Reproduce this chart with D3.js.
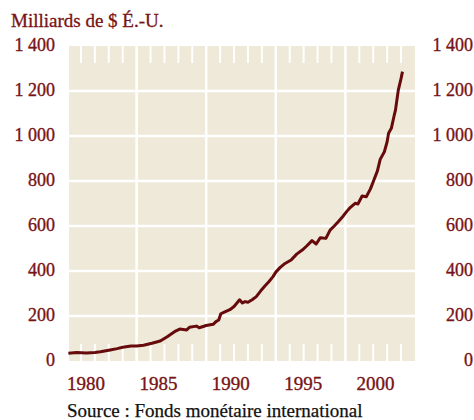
<!DOCTYPE html>
<html>
<head>
<meta charset="utf-8">
<script src="https://d3js.org/d3.v7.min.js"></script>
<style>
  body { margin: 0; background: #ffffff; }
  text { font-family: "Liberation Serif", "Times New Roman", serif; }
</style>
</head>
<body>
<div id="chart"></div>
<script>
// Reserves data (milliards de $ E.-U.)
var years = [1980.1, 1980.7, 1981.4, 1982.0, 1982.4, 1983.1, 1983.6, 1984.0, 1984.6, 1985.0,
  1985.5, 1986.1, 1986.7, 1987.2, 1987.8, 1988.1, 1988.6, 1988.8, 1989.3, 1989.5,
  1990.0, 1990.5, 1990.7, 1990.9, 1991.05, 1991.3, 1991.7, 1992.0, 1992.4, 1992.6,
  1992.8, 1993.0, 1993.3, 1993.6, 1994.0, 1994.2, 1994.5, 1994.8, 1995.0, 1995.3,
  1995.6, 1996.1, 1996.5, 1996.9, 1997.2, 1997.6, 1997.9, 1998.2, 1998.6, 1998.9,
  1999.2, 1999.5, 1999.8, 2000.1, 2000.3, 2000.7, 2000.9, 2001.2, 2001.5, 2001.8,
  2002.0, 2002.3, 2002.5, 2002.8, 2003.0, 2003.1, 2003.3, 2003.5, 2003.6, 2003.8,
  2004.0, 2004.1];
var reserves = [34, 38, 36, 38, 41, 49, 55, 61, 67, 67,
  70, 79, 89, 108, 133, 142, 138, 150, 155, 148,
  158, 163, 175, 182, 210, 217, 228, 242, 272, 258,
  264, 261, 272, 286, 318, 332, 352, 375, 395, 415,
  431, 449, 475, 493, 510, 535, 520, 548, 545, 582,
  600, 620, 641, 665, 679, 701, 698, 733, 730, 765,
  797, 845, 896, 930, 975, 1012, 1034, 1090, 1116, 1204,
  1256, 1286];

var yTicks = [0, 200, 400, 600, 800, 1000, 1200, 1400];
var yTickLabels = ["0", "200", "400", "600", "800", "1 000", "1 200", "1 400"];
var xLabelYears = [1980, 1985, 1990, 1995, 2000];
var yearTicks = d3.range(1981, 2005);

var svgWidth = 474;
var svgHeight = 420;

var bg = "#eee9d8";
var red = "#660a0c";
var labelRed = "#781315";

var svg = d3.select("#chart")
  .append("svg")
  .attr("width", svgWidth)
  .attr("height", svgHeight);

// Scales
var xScale = d3.scaleLinear()
  .domain([1980, 2005])
  .range([67, 415]);

var yScale = d3.scaleLinear()
  .domain([0, 1400])
  .range([361, 46]);

// labels are set a little to the right of their year lines
var xLabelScale = d3.scaleLinear()
  .domain([1980, 2000])
  .range([86, 375.5]);

// Plot background
svg.append("rect")
  .attr("x", xScale(1980.15))
  .attr("y", yScale(1400))
  .attr("width", xScale(2005) - xScale(1980.15))
  .attr("height", yScale(0) - yScale(1400))
  .attr("fill", bg);

// Horizontal grid lines
svg.selectAll(".hgrid")
  .data(yTicks.slice(1, -1))
  .enter()
  .append("line")
  .attr("x1", xScale(1980.15))
  .attr("x2", xScale(2005))
  .attr("y1", d => yScale(d))
  .attr("y2", d => yScale(d))
  .attr("stroke", "#ffffff")
  .attr("stroke-width", 2.5);

// Vertical grid lines every 5 years
svg.selectAll(".vgrid")
  .data(xLabelYears.slice(1))
  .enter()
  .append("line")
  .attr("x1", d => xScale(d))
  .attr("x2", d => xScale(d))
  .attr("y1", yScale(1400))
  .attr("y2", yScale(0))
  .attr("stroke", "#ffffff")
  .attr("stroke-width", 2.5);

// Yearly tick marks, top and bottom
var tickLen = 17;
var minorYears = yearTicks.filter(d => d % 5 !== 0);

svg.selectAll(".tickTop")
  .data(minorYears)
  .enter()
  .append("line")
  .attr("x1", d => xScale(d))
  .attr("x2", d => xScale(d))
  .attr("y1", yScale(1400))
  .attr("y2", yScale(1400) + tickLen)
  .attr("stroke", "#ffffff")
  .attr("stroke-width", 2);

svg.selectAll(".tickBottom")
  .data(minorYears)
  .enter()
  .append("line")
  .attr("x1", d => xScale(d))
  .attr("x2", d => xScale(d))
  .attr("y1", yScale(0) - tickLen)
  .attr("y2", yScale(0))
  .attr("stroke", "#ffffff")
  .attr("stroke-width", 2);

// Data line
var lineData = years.map((d, i) => ({ year: d, value: reserves[i] }));

var line = d3.line()
  .x(d => xScale(d.year))
  .y(d => yScale(d.value));

svg.append("path")
  .datum(lineData)
  .attr("d", line)
  .attr("fill", "none")
  .attr("stroke", red)
  .attr("stroke-width", 3)
  .attr("stroke-linejoin", "round");

// Y labels, both sides
svg.selectAll(".yLabelLeft")
  .data(yTicks)
  .enter()
  .append("text")
  .attr("x", 55)
  .attr("y", d => yScale(d) + 5)
  .attr("text-anchor", "end")
  .attr("font-size", 18)
  .attr("fill", labelRed)
  .attr("stroke", labelRed)
  .attr("stroke-width", 0.35)
  .text((d, i) => yTickLabels[i]);

svg.selectAll(".yLabelRight")
  .data(yTicks)
  .enter()
  .append("text")
  .attr("x", 473)
  .attr("y", d => yScale(d) + 5)
  .attr("text-anchor", "end")
  .attr("font-size", 18)
  .attr("fill", labelRed)
  .attr("stroke", labelRed)
  .attr("stroke-width", 0.35)
  .text((d, i) => yTickLabels[i]);

// X labels
svg.selectAll(".xLabel")
  .data(xLabelYears)
  .enter()
  .append("text")
  .attr("x", d => xLabelScale(d))
  .attr("y", 390)
  .attr("text-anchor", "middle")
  .attr("font-size", 19)
  .attr("fill", labelRed)
  .attr("stroke", labelRed)
  .attr("stroke-width", 0.35)
  .text(d => d);

// Title and source
svg.append("text")
  .attr("x", 11)
  .attr("y", 27)
  .attr("font-size", 19)
  .attr("fill", labelRed)
  .attr("stroke", labelRed)
  .attr("stroke-width", 0.3)
  .text("Milliards de $ É.-U.");

svg.append("text")
  .attr("x", 67)
  .attr("y", 417)
  .attr("font-size", 19)
  .attr("fill", "#111111")
  .attr("stroke", "#111111")
  .attr("stroke-width", 0.25)
  .text("Source : Fonds monétaire international");
</script>
</body>
</html>
